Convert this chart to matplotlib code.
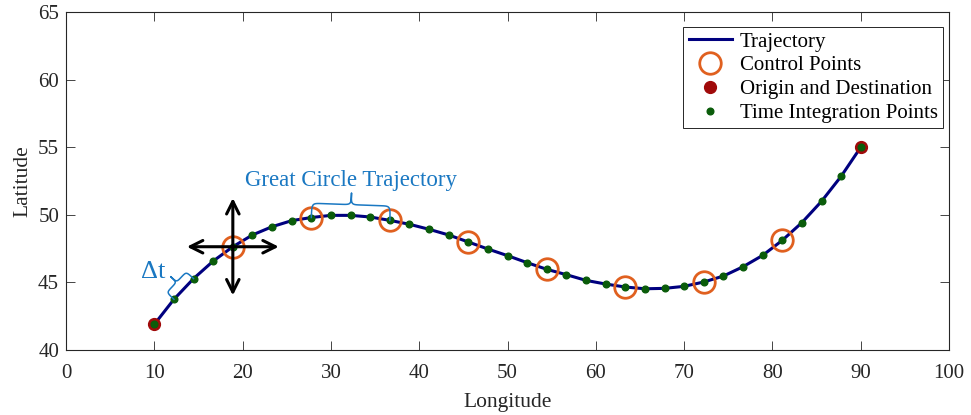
import numpy as np
import matplotlib
matplotlib.use("Agg")
import matplotlib.pyplot as plt

plt.rcParams['font.family'] = ['Liberation Serif', 'DejaVu Serif']

# ---- data ----
lon = [10.00, 12.22, 14.44, 16.67, 18.89, 21.11, 23.33, 25.56, 27.78, 30.00,
       32.22, 34.44, 36.67, 38.89, 41.11, 43.33, 45.56, 47.78, 50.00, 52.22,
       54.44, 56.67, 58.89, 61.11, 63.33, 65.56, 67.78, 70.00, 72.22, 74.44,
       76.67, 78.89, 81.11, 83.33, 85.56, 87.78, 90.00]
lat = [41.90, 43.75, 45.28, 46.58, 47.64, 48.51, 49.12, 49.57, 49.80, 49.96,
       49.96, 49.84, 49.59, 49.30, 48.93, 48.51, 47.99, 47.47, 46.98, 46.46,
       45.97, 45.57, 45.15, 44.88, 44.66, 44.53, 44.56, 44.71, 45.03, 45.47,
       46.16, 47.00, 48.11, 49.42, 51.00, 52.85, 55.00]
ctrl_lon = [18.89, 27.78, 36.67, 45.56, 54.44, 63.33, 72.22, 81.11]
ctrl_lat = [47.64, 49.80, 49.59, 47.99, 45.97, 44.66, 45.03, 48.11]
od_lon = [10.0, 90.0]
od_lat = [41.90, 55.00]
xticks = [0, 10, 20, 30, 40, 50, 60, 70, 80, 90, 100]
yticks = [40, 45, 50, 55, 60, 65]

C_LINE = '#00007f'
C_CTRL = '#e0601f'
C_OD = '#a00a0a'
C_TIME = '#0a5c0a'
C_ANN = '#1a78c2'
C_AX = '#262626'

fig = plt.figure(figsize=(9.71, 4.15), dpi=100)
ax = fig.add_axes([0.068, 0.1566, 0.9094, 0.8144])

ax.plot(lon, lat, color=C_LINE, lw=2.2, label='Trajectory', zorder=2)
ax.plot(ctrl_lon, ctrl_lat, ls='none', marker='o', ms=15.5, mfc='none',
        mec=C_CTRL, mew=2.0, label='Control Points', zorder=3)
ax.plot(od_lon, od_lat, ls='none', marker='o', ms=8.5, mfc=C_OD, mec=C_OD,
        label='Origin and Destination', zorder=4)
ax.plot(lon, lat, ls='none', marker='o', ms=4.8, mfc=C_TIME, mec=C_TIME,
        label='Time Integration Points', zorder=5)

ax.set_xlim(0, 100)
ax.set_ylim(40, 65)
ax.set_xticks(xticks)
ax.set_yticks(yticks)
ax.tick_params(direction='in', length=6.5, width=0.6, colors=C_AX,
               labelsize=15, labelcolor=C_AX, top=True, right=True, pad=5)
ax.tick_params(axis='x', pad=10)
for s in ax.spines.values():
    s.set_color(C_AX)
    s.set_linewidth(0.8)
ax.set_xlabel('Longitude', fontsize=15.5, color=C_AX, labelpad=7)
ax.set_ylabel('Latitude', fontsize=15.5, color=C_AX, labelpad=4)

leg = ax.legend(loc='upper right', bbox_to_anchor=(0.993, 0.956), fontsize=15,
                frameon=True, fancybox=False, framealpha=1, edgecolor=C_AX,
                labelspacing=0.2, borderpad=0.25, handletextpad=0.35,
                handlelength=2.1, borderaxespad=0)
leg.get_frame().set_linewidth(0.7)

# ---- arrows around the first control point ----
cx, cy = ctrl_lon[0], ctrl_lat[0]
akw = dict(arrowstyle='<->,head_length=0.6,head_width=0.3', lw=2.2,
           color='black', mutation_scale=15, shrinkA=0, shrinkB=0)
ax.annotate('', xy=(cx - 5.2, cy), xytext=(cx + 5.2, cy), arrowprops=akw, zorder=6)
ax.annotate('', xy=(cx, cy + 3.6), xytext=(cx, cy - 3.6), arrowprops=akw, zorder=6)


# ---- curly braces (built in display space) ----
def cubic(p0, p1, p2, p3, n=20):
    t = np.linspace(0, 1, n)[:, None]
    return ((1 - t) ** 3) * p0 + 3 * ((1 - t) ** 2) * t * p1 + 3 * (1 - t) * t ** 2 * p2 + t ** 3 * p3


def brace(x0, y0, x1, y1, h, r, **kw):
    fig.canvas.draw()
    P0 = ax.transData.transform((x0, y0))
    P1 = ax.transData.transform((x1, y1))
    d = P1 - P0
    L = np.hypot(*d)
    u = d / L
    v = np.array([-u[1], u[0]])
    hh = h * 0.55
    A = np.array
    segs = [
        cubic(A([0, 0]), A([0, hh]), A([0, hh]), A([r, hh])),
        cubic(A([r, hh]), A([L / 2 - r, hh]), A([L / 2 - r, hh]), A([L / 2 - r, hh]), 2),
        cubic(A([L / 2 - r, hh]), A([L / 2, hh]), A([L / 2, hh]), A([L / 2, h])),
        cubic(A([L / 2, h]), A([L / 2, hh]), A([L / 2, hh]), A([L / 2 + r, hh])),
        cubic(A([L / 2 + r, hh]), A([L - r, hh]), A([L - r, hh]), A([L - r, hh]), 2),
        cubic(A([L - r, hh]), A([L, hh]), A([L, hh]), A([L, 0])),
    ]
    pts = np.vstack(segs)
    disp = P0 + pts[:, :1] * u + pts[:, 1:] * v
    data = ax.transData.inverted().transform(disp)
    ax.plot(data[:, 0], data[:, 1], **kw)


brace(ctrl_lon[1], ctrl_lat[1], ctrl_lon[2], ctrl_lat[2], 26, 10,
      color=C_ANN, lw=1.1, zorder=7)
brace(lon[1], lat[1], lon[2], lat[2], 18, 7, color=C_ANN, lw=1.1, zorder=7)

ax.text(32.28, 52.57, 'Great Circle Trajectory', color=C_ANN, fontsize=16.5,
        ha='center', va='center')
ax.text(9.9, 45.75, 'Δt', color=C_ANN, fontsize=19, ha='center', va='center')

fig.savefig('out.png', dpi=100)
